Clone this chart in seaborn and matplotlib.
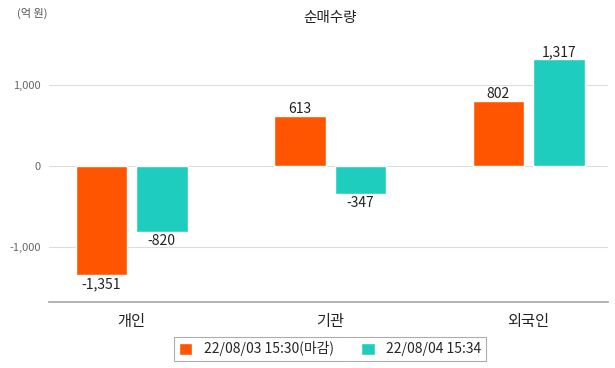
import matplotlib
matplotlib.use("Agg")
import matplotlib.pyplot as plt
import seaborn as sns
import pandas as pd

categories = ["개인", "기관", "외국인"]
series_names = ["22/08/03 15:30(마감)", "22/08/04 15:34"]
values_0803 = [-1351, 613, 802]
values_0804 = [-820, -347, 1317]
colors = ["#FF5500", "#1ECDBE"]

df = pd.DataFrame({
    "cat": categories * 2,
    "series": [series_names[0]] * 3 + [series_names[1]] * 3,
    "val": values_0803 + values_0804,
})

sns.set_theme(style="white")
plt.rcParams["font.family"] = ["Noto Sans CJK KR", "DejaVu Sans"]

W, H = 615, 368
fig = plt.figure(figsize=(W / 100, H / 100), dpi=100)
left, right, top, bottom = 49, 608, 40, 302
ax = fig.add_axes([left / W, (H - bottom) / H, (right - left) / W, (bottom - top) / H])

sns.barplot(data=df, x="cat", y="val", hue="series", palette=colors,
            width=0.61, gap=0.15, ax=ax, legend=True, saturation=1)

ax.set_xlim(-0.416, 2.40)
ax.set_ylim(-1679, 1556)
ax.set_yticks([-1000, 0, 1000])
ax.set_yticklabels(["-1,000", "0", "1,000"], color="#666666", fontsize=8)
ax.tick_params(axis="y", length=0, pad=6)
ax.tick_params(axis="x", length=0, pad=8, labelsize=11, labelcolor="#222222")
ax.yaxis.grid(True, color="#dddddd", linewidth=0.8)
ax.set_axisbelow(True)
for s in ["top", "right", "left"]:
    ax.spines[s].set_visible(False)
ax.spines["bottom"].set_color("#aaaaaa")
ax.set_xlabel("")
ax.set_ylabel("")

for cont in ax.containers:
    for bar in cont:
        h = bar.get_height()
        xc = bar.get_x() + bar.get_width() / 2
        if h >= 0:
            ax.annotate(f"{h:,.0f}", (xc, h), xytext=(0, 0), textcoords="offset points",
                        ha="center", va="bottom", fontsize=10, color="#222222")
        else:
            ax.annotate(f"{h:,.0f}", (xc, h), xytext=(0, -1), textcoords="offset points",
                        ha="center", va="top", fontsize=10, color="#222222")

leg = ax.legend(loc="center", bbox_to_anchor=(330 / W, (H - 349) / H),
                bbox_transform=fig.transFigure, ncol=2, frameon=True, fancybox=False,
                shadow=False, fontsize=10, handlelength=1.0, handleheight=1.0,
                columnspacing=2.0, borderpad=0.35, handletextpad=0.8)
leg.get_frame().set_edgecolor("#999999")
leg.get_frame().set_linewidth(0.8)

fig.text(330 / W, (H - 18) / H, "순매수량", ha="center", va="center", fontsize=10.5, color="#222222")
fig.text(17 / W, (H - 13) / H, "(억 원)", ha="left", va="center", fontsize=8, color="#555555")

fig.savefig("out.png", dpi=100)
